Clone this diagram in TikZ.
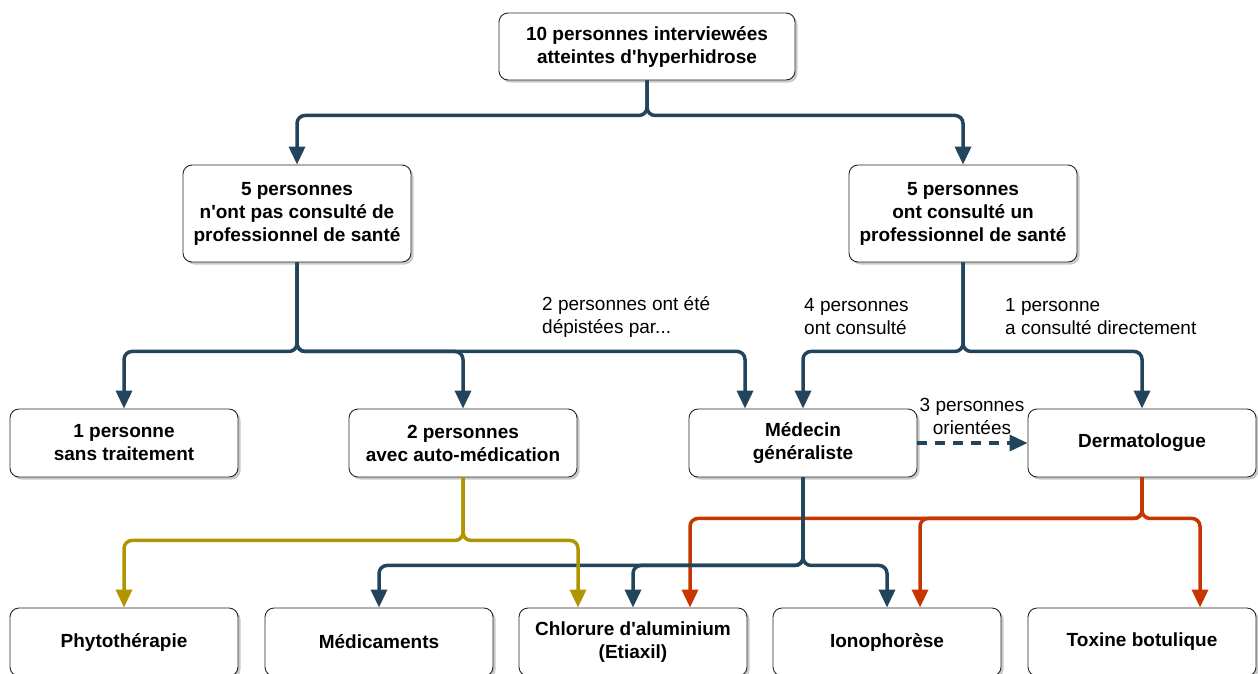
\documentclass[tikz,border=0pt]{standalone}
\usepackage{fontspec}
\setmainfont{Liberation Sans}
\usetikzlibrary{arrows.meta,shadows,calc}
\definecolor{cblue}{HTML}{23445D}
\definecolor{cyel}{HTML}{B09500}
\definecolor{cred}{HTML}{C73500}
\newcommand{\apos}{\textquotesingle}
\tikzset{
  box/.style={draw=black!85, line width=0.9pt, fill=white, rounded corners=9pt,
    minimum width=228pt, minimum height=68pt, align=center, inner sep=2pt,
    font=\fontsize{19}{23}\selectfont\bfseries,
    drop shadow={shadow xshift=2.5pt, shadow yshift=-2.5pt, opacity=0.35, fill=black!60}},
  lab/.style={font=\fontsize{19}{23}\selectfont, inner sep=0pt},
  conn/.style={line width=3.5pt, rounded corners=8pt,
    -{Triangle[length=18pt,width=16pt]}},
}
\begin{document}
\begin{tikzpicture}[x=1pt,y=-1pt]
\useasboundingbox (0,0) rectangle (1258,673);
% nodes
\node[box, minimum width=296pt, minimum height=67pt] (top) at (647,46.5) {10 personnes interviewées\\atteintes d\apos hyperhidrose};
\node[box, minimum height=97pt] (m1) at (297,213.5) {5 personnes\\n\apos ont pas consulté de\\professionnel de santé};
\node[box, minimum height=97pt] (m2) at (963,213.5) {5 personnes\\ont consulté un\\professionnel de santé};
\node[box] (n1) at (124,443) {1 personne\\sans traitement};
\node[box] (n2) at (463,443) {2 personnes\\avec auto-médication};
\node[box] (med) at (803,443) {Médecin\\généraliste};
\node[box] (der) at (1142,443) {Dermatologue};
\node[box] (phy) at (124,642) {Phytothérapie};
\node[box] (mdc) at (379,642) {Médicaments};
\node[box] (chl) at (633,642) {Chlorure d\apos aluminium\\(Etiaxil)};
\node[box] (ion) at (887,642) {Ionophorèse};
\node[box] (tox) at (1142,642) {Toxine botulique};
% labels
\node[lab, anchor=west, align=left] (l1) at (542,317) {2 personnes ont été\\dépistées par...};
\node[lab, anchor=west, align=left] (l2) at (804,317) {4 personnes\\ont consulté};
\node[lab, anchor=west, align=left] (l3) at (1005,317) {1 personne\\a consulté directement};
\node[lab, align=center] (l4) at (972,416) {3 personnes\\orientées};
% connectors
\draw[conn, cblue] (top.south) -- ++(0,35) -| (m1.north);
\draw[conn, cblue] (top.south) -- ++(0,35) -| (m2.north);
\draw[conn, cblue] (m1.south) -- ++(0,89) -| (n1.north);
\draw[conn, cblue] (m1.south) -- ++(0,89) -| (n2.north);
\draw[conn, cblue] (m1.south) -- ++(0,89) -| ([xshift=-58pt]med.north);
\draw[conn, cblue] (m2.south) -- ++(0,89) -| (med.north);
\draw[conn, cblue] (m2.south) -- ++(0,89) -| (der.north);
\draw[conn, cblue, dash pattern=on 10pt off 8pt, rounded corners=0pt] (med.east) -- (der.west);
% red
\draw[conn, cred] (der.south) -- ++(0,41) -| ([xshift=57pt]chl.north);
\draw[conn, cred] (der.south) -- ++(0,41) -| ([xshift=33pt]ion.north);
\draw[conn, cred] (der.south) -- ++(0,41) -| ([xshift=58pt]tox.north);
% blue
\draw[conn, cblue] (med.south) -- ++(0,88) -| (mdc.north);
\draw[conn, cblue] (med.south) -- ++(0,88) -| (chl.north);
\draw[conn, cblue] (med.south) -- ++(0,88) -| (ion.north);
% yellow
\draw[conn, cyel] (n2.south) -- ++(0,63) -| (phy.north);
\draw[conn, cyel] (n2.south) -- ++(0,63) -| ([xshift=-55pt]chl.north);
\end{tikzpicture}
\end{document}
